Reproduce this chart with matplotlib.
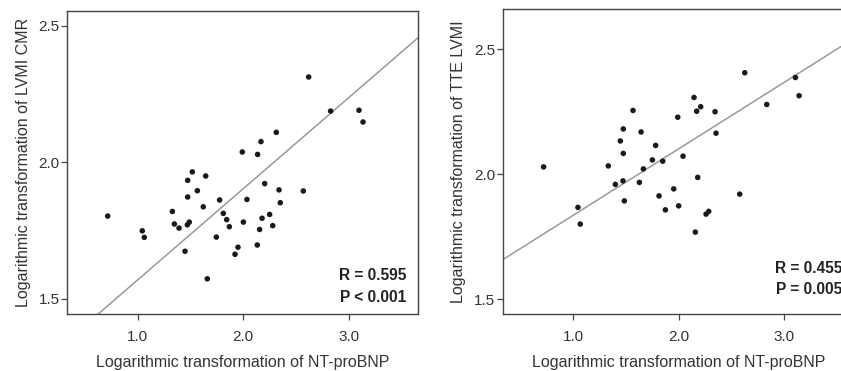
import matplotlib
matplotlib.use("Agg")
import matplotlib.pyplot as plt
import numpy as np

plt.rcParams.update({
    "font.family": ["Liberation Sans", "DejaVu Sans"],
    "font.size": 11,
    "axes.edgecolor": "#444444",
    "axes.linewidth": 1.0,
    "xtick.color": "#444444",
    "ytick.color": "#444444",
    "xtick.labelcolor": "#333333",
    "ytick.labelcolor": "#333333",
    "axes.labelcolor": "#333333",
})

# Left panel: LVMI CMR vs NT-proBNP (log-transformed)
cmr_x = [0.716, 1.044, 1.063, 1.329, 1.348, 1.392, 1.449, 1.474, 1.474, 1.471,
         1.490, 1.518, 1.566, 1.622, 1.645, 1.660, 1.746, 1.777, 1.812, 1.844,
         1.869, 1.923, 1.951, 1.992, 2.002, 2.036, 2.134, 2.137, 2.156, 2.169,
         2.179, 2.204, 2.251, 2.280, 2.314, 2.340, 2.352, 2.570, 2.621, 2.829,
         3.098, 3.136]
cmr_y = [1.803, 1.749, 1.725, 1.820, 1.774, 1.759, 1.674, 1.934, 1.873, 1.771,
         1.781, 1.965, 1.896, 1.837, 1.950, 1.573, 1.726, 1.862, 1.813, 1.790,
         1.764, 1.663, 1.689, 2.038, 1.781, 1.864, 1.697, 2.029, 1.754, 2.076,
         1.795, 1.922, 1.809, 1.768, 2.110, 1.899, 1.852, 1.895, 2.313, 2.188,
         2.191, 2.148]
cmr_fit = (0.334, 1.235)  # slope, intercept

# Right panel: TTE LVMI vs NT-proBNP (log-transformed)
tte_x = [0.722, 1.047, 1.069, 1.334, 1.401, 1.448, 1.476, 1.476, 1.473, 1.486,
         1.568, 1.628, 1.644, 1.666, 1.751, 1.782, 1.814, 1.849, 1.874, 1.953,
         1.991, 2.000, 2.041, 2.145, 2.158, 2.170, 2.180, 2.208, 2.259, 2.284,
         2.344, 2.353, 2.577, 2.625, 2.833, 3.104, 3.139]
tte_y = [2.029, 1.867, 1.800, 2.033, 1.959, 2.133, 2.181, 2.083, 1.973, 1.893,
         2.255, 1.967, 2.169, 2.021, 2.057, 2.115, 1.913, 2.052, 1.857, 1.941,
         2.228, 1.873, 2.072, 2.307, 1.768, 2.252, 1.987, 2.270, 1.840, 1.851,
         2.250, 2.164, 1.920, 2.406, 2.279, 2.387, 2.314]
tte_fit = (0.2667, 1.568)

x_ticks = [1.0, 2.0, 3.0]
y_ticks = [1.5, 2.0, 2.5]
x_label = "Logarithmic transformation of NT-proBNP"

fig = plt.figure(figsize=(8.41, 3.71), dpi=100)
ax1 = fig.add_axes([0.080, 0.1536, 0.417, 0.8176])
ax2 = fig.add_axes([0.5977, 0.1536, 0.4176, 0.8213])


def draw_panel(ax, xs, ys, fit, xlim, ylim, ylabel, stats, ypos):
    slope, icpt = fit
    lx = np.array(xlim)
    ax.plot(lx, slope * lx + icpt, color="#999999", lw=1.1, zorder=1)
    ax.scatter(xs, ys, s=16, color="#1a1a1a", edgecolors="none", zorder=2)
    ax.set_xlim(*xlim)
    ax.set_ylim(*ylim)
    ax.set_xticks(x_ticks)
    ax.set_xticklabels([f"{t:.1f}" for t in x_ticks])
    ax.set_yticks(y_ticks)
    ax.set_yticklabels([f"{t:.1f}" for t in y_ticks])
    ax.tick_params(axis="x", length=4.5, width=0.9, pad=7, labelsize=11)
    ax.tick_params(axis="y", length=4.5, width=0.9, pad=1.0, labelsize=11)
    ax.set_xlabel(x_label, fontsize=11.5, labelpad=8)
    ax.set_ylabel(ylabel, fontsize=11.5, labelpad=5.5)
    for txt, yy in zip(stats, ypos):
        ax.text(0.966, yy, txt, transform=ax.transAxes, ha="right", va="center",
                fontsize=11.2, fontweight="bold", color="#222222")


draw_panel(ax1, cmr_x, cmr_y, cmr_fit, (0.333, 3.657), (1.444, 2.556),
           "Logarithmic transformation of LVMI CMR",
           ["R = 0.595", "P < 0.001"], [0.1286, 0.056])
draw_panel(ax2, tte_x, tte_y, tte_fit, (0.335, 3.657), (1.44, 2.66),
           "Logarithmic transformation of TTE LVMI",
           ["R = 0.455", "P = 0.005"], [0.151, 0.082])

fig.savefig("out.png", dpi=100)
